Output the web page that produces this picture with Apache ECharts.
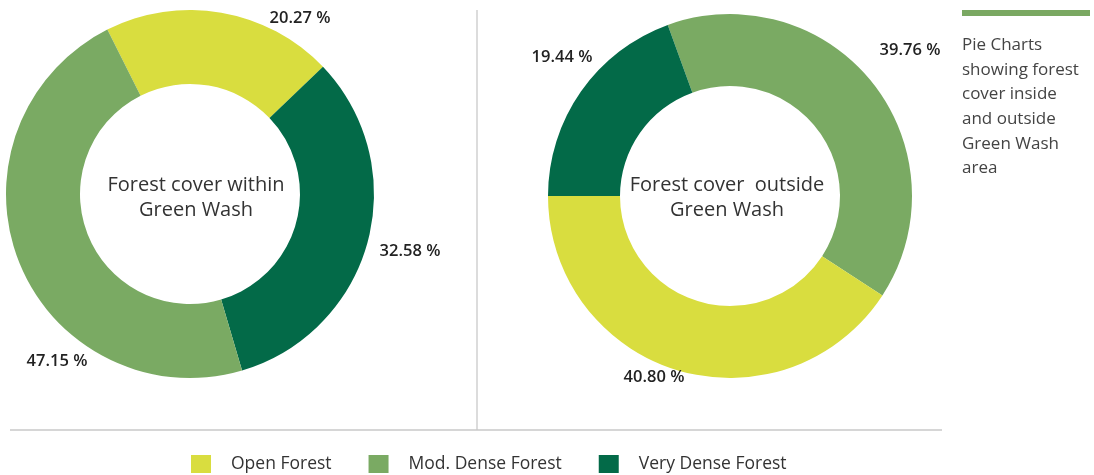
<!DOCTYPE html>
<html>
<head>
<meta charset="utf-8">
<script src="https://cdn.jsdelivr.net/npm/echarts@6/dist/echarts.min.js"></script>
<style>
html,body{margin:0;padding:0;background:#fff;}
#chart{width:1094px;height:475px;}
</style>
</head>
<body>
<div id="chart"></div>
<script>
const categories = ['Open Forest', 'Mod. Dense Forest', 'Very Dense Forest'];
const colors = ['#d9dd3f', '#7aaa63', '#036a48'];
// Left chart: forest cover within Green Wash (clockwise order: Open, Very Dense, Mod. Dense)
const withinNames = ['Open Forest', 'Very Dense Forest', 'Mod. Dense Forest'];
const withinValues = [20.27, 32.58, 47.15];
// Right chart: forest cover outside Green Wash (clockwise order: Mod. Dense, Open, Very Dense)
const outsideNames = ['Mod. Dense Forest', 'Open Forest', 'Very Dense Forest'];
const outsideValues = [39.76, 40.80, 19.44];
const withinTitle = 'Forest cover within\nGreen Wash';
const outsideTitle = 'Forest cover  outside\nGreen Wash';
const noteText = 'Pie Charts\nshowing forest\ncover inside\nand outside\nGreen Wash\narea';

// label placements (layout only)
const labelPos = [
  [[300, 18], [410, 251], [57, 361]],
  [[910, 50], [654, 377], [562, 57]]
];

const font = '"Open Sans", "Noto Sans", sans-serif';
function colorOf(name) { return colors[categories.indexOf(name)]; }
function makeData(names, values) {
  return names.map((n, i) => ({ name: n, value: values[i], itemStyle: { color: colorOf(n) } }));
}
function makeSeries(idx, names, values, center, radius, startAngle) {
  return {
    type: 'pie',
    center: center,
    radius: radius,
    startAngle: startAngle,
    clockwise: true,
    avoidLabelOverlap: false,
    silent: true,
    data: makeData(names, values),
    label: {
      show: true,
      position: 'outside',
      formatter: p => p.value.toFixed(2) + ' %',
      fontFamily: font,
      fontSize: 16.5,
      fontWeight: 600,
      color: '#222'
    },
    labelLine: { show: false },
    labelLayout: function (params) {
      const p = labelPos[idx][params.dataIndex];
      return { x: p[0], y: p[1], align: 'center', verticalAlign: 'middle' };
    }
  };
}

const chart = echarts.init(document.getElementById('chart'), null, { renderer: 'canvas' });
chart.setOption({
  animation: false,
  backgroundColor: '#fff',
  legend: {
    data: categories,
    left: 186,
    top: 450,
    icon: 'rect',
    itemWidth: 20,
    itemHeight: 18,
    itemGap: 37,
    textStyle: { fontFamily: font, fontSize: 17.5, color: '#333', padding: [0, 0, 0, 15] },
    selectedMode: false
  },
  title: [
    { text: withinTitle, left: 191, top: 168, textAlign: 'center',
      textStyle: { fontFamily: font, fontSize: 20, fontWeight: 'normal', color: '#333', lineHeight: 25 } },
    { text: outsideTitle, left: 722, top: 168, textAlign: 'center',
      textStyle: { fontFamily: font, fontSize: 20, fontWeight: 'normal', color: '#333', lineHeight: 25 } }
  ],
  graphic: [
    { type: 'line', shape: { x1: 477, y1: 10, x2: 477, y2: 430 }, style: { stroke: '#d0d0d0', lineWidth: 1.5 } },
    { type: 'line', shape: { x1: 10, y1: 430, x2: 942, y2: 430 }, style: { stroke: '#c8c8c8', lineWidth: 1.5 } },
    { type: 'rect', shape: { x: 962, y: 10, width: 128, height: 6 }, style: { fill: '#7aa862' } },
    { type: 'text', left: 962, top: 33,
      style: { text: noteText, fontFamily: font, fontSize: 17, lineHeight: 24.6, fill: '#444' } }
  ],
  series: [
    makeSeries(0, withinNames, withinValues, [190, 194], [110, 184], 116.7),
    makeSeries(1, outsideNames, outsideValues, [730, 196], [110, 182], 110)
  ]
});
</script>
</body>
</html>
